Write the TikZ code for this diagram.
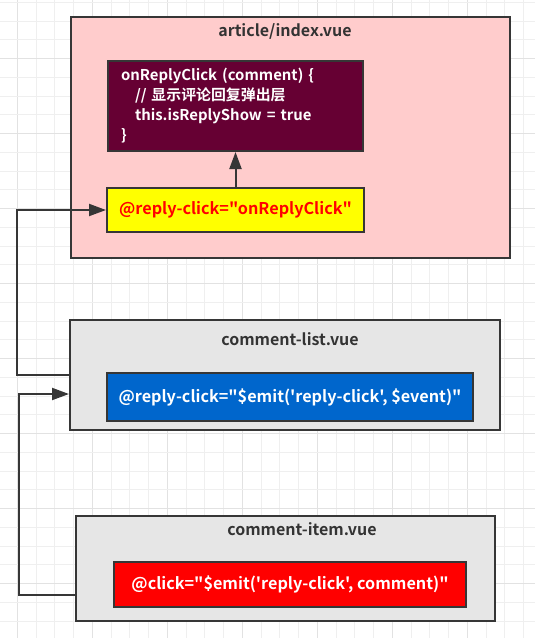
\documentclass[tikz,border=0pt]{standalone}
\usepackage{fontspec}
\newfontfamily\yh{Noto Sans CJK SC}[BoldFont={* Bold}]
\usetikzlibrary{arrows.meta,calc}
\definecolor{linec}{HTML}{363636}
\definecolor{titlec}{HTML}{333333}
\definecolor{pinkf}{HTML}{FFCCCC}
\definecolor{maroonf}{HTML}{660033}
\definecolor{yellowf}{HTML}{FFFF00}
\definecolor{bluef}{HTML}{0066CC}
\definecolor{redf}{HTML}{FF0000}
\definecolor{grayf}{HTML}{E6E6E6}
\definecolor{gridminor}{HTML}{EFEFEF}
\definecolor{gridmajor}{HTML}{E2E2E2}
\tikzset{
  box/.style={draw=linec, line width=2pt, rectangle, inner sep=0pt},
  arr/.style={draw=linec, line width=2pt, -{Triangle[length=17pt,width=12pt]}},
  ttl/.style={text=titlec, inner sep=0pt, font=\yh\bfseries\fontsize{16}{18}\selectfont},
  code/.style={font=\yh\bfseries\fontsize{16.2}{20}\selectfont},
}
\begin{document}
\begin{tikzpicture}[x=1pt,y=-1pt,font=\yh\bfseries\fontsize{14}{20}\selectfont]
\useasboundingbox (0,0) rectangle (535,638);
\fill[white] (0,0) rectangle (535,638);
% grid
\foreach \i in {0,...,27} {
  \pgfmathtruncatemacro{\m}{mod(\i,4)}
  \ifnum\m=0 \def\gc{gridmajor}\else\def\gc{gridminor}\fi
  \draw[\gc, line width=1pt] ({17.3+18.75*\i},0) -- ({17.3+18.75*\i},638);
}
\foreach \j in {0,...,33} {
  \pgfmathtruncatemacro{\m}{mod(\j,4)}
  \ifnum\m=3 \def\gc{gridmajor}\else\def\gc{gridminor}\fi
  \draw[\gc, line width=1pt] (0,{2.3+18.75*\j}) -- (535,{2.3+18.75*\j});
}
% containers
\node[box, fill=pinkf, minimum width=439pt, minimum height=241pt] (art) at (290.5,137.5) {};
\node[ttl] (artt) at (285,31) {article/index.vue};
\node[box, fill=grayf, minimum width=430pt, minimum height=110pt] (list) at (285,375) {};
\node[ttl] (listt) at (290,339) {comment-list.vue};
\node[box, fill=grayf, minimum width=419pt, minimum height=105pt] (item) at (285.5,568.5) {};
\node[ttl] (itemt) at (302,529) {comment-item.vue};
% inner boxes
\node[box, fill=maroonf, text=white, minimum width=255pt, minimum height=90pt,
      text width=229pt, align=left, inner xsep=13pt,
      font=\yh\bfseries\fontsize{14.9}{20}\selectfont] (fn) at (235.5,106)
  {onReplyClick (comment) \{\\
   \hspace*{14pt}// 显示评论回复弹出层\\
   \hspace*{14pt}this.isReplyShow = true\\
   \}};
\node[box, code, fill=yellowf, text=redf, minimum width=257pt, minimum height=44pt] (yel) at (235.5,210)
  {@reply-click="onReplyClick"};
\node[box, code, fill=bluef, text=white, minimum width=366pt, minimum height=48pt] (blue) at (290,397)
  {@reply-click="\$emit('reply-click', \$event)"};
\node[box, code, fill=redf, text=white, minimum width=352pt, minimum height=45pt] (red) at (290,584.5)
  {@click="\$emit('reply-click', comment)"};
% connectors
\draw[arr] (yel.north) -- (fn.south);
\coordinate (c1) at (17,375);
\draw[arr] (list.west) -- (c1) |- (yel.west);
\coordinate (c2) at ($(item.west)+(0,26.5)$);
\coordinate (c3) at (19,595);
\coordinate (c4) at ($(list.west)+(0,19)$);
\draw[arr] (c2) -- (c3) |- (c4);
\end{tikzpicture}
\end{document}
